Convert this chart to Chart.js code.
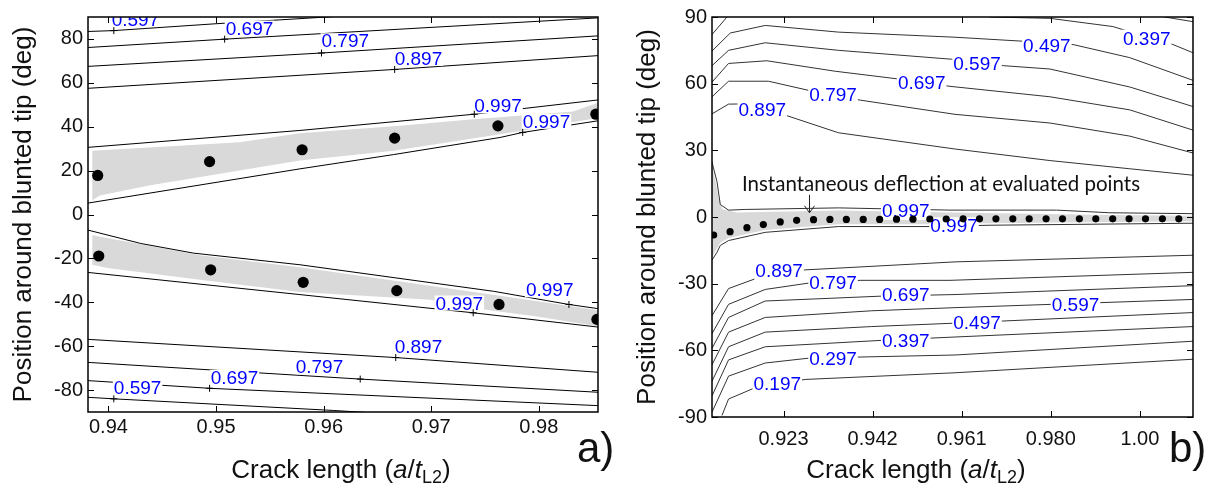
<!DOCTYPE html>
<html><head><meta charset="utf-8">
<script src="https://cdn.jsdelivr.net/npm/chart.js@4.4.1/dist/chart.umd.min.js"></script>
<style>
html,body{margin:0;padding:0;background:#fff;width:1217px;height:492px;overflow:hidden;position:relative;}
#wa{position:absolute;left:0;top:0;width:610px;height:492px;}
#wb{position:absolute;left:610px;top:0;width:607px;height:492px;}
.xt{position:absolute;font-family:"Liberation Sans",Arial,sans-serif;font-size:26px;line-height:30px;color:#111;white-space:nowrap;transform:translateX(-50%);}
.xt sub{font-size:18px;line-height:0;vertical-align:-5px;}
.pl{position:absolute;font-family:"Liberation Sans",Arial,sans-serif;font-size:42px;line-height:48px;color:#111;}
</style></head>
<body>
<div id="wa"><canvas id="ca"></canvas></div>
<div id="wb"><canvas id="cb"></canvas></div>
<div class="xt" style="left:341px;top:454px;">Crack length (<i>a</i>/<i>t</i><sub>L2</sub>)</div>
<div class="xt" style="left:916px;top:454px;">Crack length (<i>a</i>/<i>t</i><sub>L2</sub>)</div>
<div class="pl" style="left:577px;top:424px;">a)</div>
<div class="pl" style="left:1169px;top:424px;">b)</div>
<script>
// ---------------- Panel a data ----------------
const aXTicks=[0.94,0.95,0.96,0.97,0.98];
const aXTickLabels=['0.94','0.95','0.96','0.97','0.98'];
const aYTicks=[-80,-60,-40,-20,0,20,40,60,80];
const aDotsUpX=[0.9390,0.9494,0.9580,0.9666,0.9762,0.9853];
const aDotsUpY=[17.8,24.1,29.5,34.8,40.4,45.7];
const aDotsLoX=[0.9391,0.9495,0.9581,0.9668,0.9763,0.9854];
const aDotsLoY=[-18.9,-25.2,-30.9,-34.7,-41.0,-47.8];
const aC597top=[[0.9381,83.4],[0.9405,83.8],[0.9499,86.9],[0.9603,90.0],[0.9700,93.0]];
const aC697top=[[0.9381,76.1],[0.9508,79.9],[0.9855,89.6]];
const aC797top=[[0.9381,67.5],[0.9598,73.6],[0.9855,81.4]];
const aC897top=[[0.9381,57.5],[0.9666,66.1],[0.9855,72.4]];
const aC997a=[[0.9381,30.6],[0.9578,38.3],[0.9740,45.7],[0.9855,52.2]];
const aC997b=[[0.9381,5.2],[0.9578,20.8],[0.9665,27.3],[0.9764,35.1],[0.9785,37.4],[0.9855,42.7]];
const aC997c=[[0.9381,-7.1],[0.9430,-13.2],[0.9479,-17.6],[0.9578,-22.9],[0.9758,-35.0],[0.9828,-41.0],[0.9855,-42.9]];
const aC997d=[[0.9381,-26.4],[0.9578,-36.5],[0.9739,-44.8],[0.9855,-51.3]];
const aC897bot=[[0.9381,-56.9],[0.9667,-65.2],[0.9855,-71.9]];
const aC797bot=[[0.9381,-67.4],[0.9634,-75.0],[0.9855,-81.0]];
const aC697bot=[[0.9381,-75.7],[0.9494,-79.2],[0.9855,-87.1]];
const aC597bot=[[0.9381,-83.3],[0.9405,-84.0],[0.9609,-89.3],[0.9700,-92.0]];
const aBandUpTop=[[0.9385,29.1],[0.9522,32.9],[0.9578,37.0],[0.9671,40.4],[0.9739,43.4],[0.9832,46.9],[0.9855,50.9]];
const aBandUpBot=[[0.9385,6.5],[0.9392,8.7],[0.9439,13.3],[0.9578,24.6],[0.9665,29.0],[0.9761,36.3],[0.9783,38.0],[0.9832,42.2],[0.9855,44.0]];
const aBandLoTop=[[0.9385,-9.4],[0.9485,-18.6],[0.9578,-24.0],[0.9699,-32.5],[0.9783,-38.4],[0.9855,-43.6]];
const aBandLoBot=[[0.9385,-22.9],[0.9399,-24.4],[0.9485,-29.7],[0.9578,-35.3],[0.9699,-38.8],[0.9749,-43.3],[0.9795,-46.3],[0.9855,-50.9]];
const aLabelText=['0.597','0.697','0.797','0.897','0.997','0.997','0.997','0.997','0.897','0.797','0.697','0.597'];
const aLabelX=[0.9403,0.9509,0.9598,0.9666,0.9740,0.9785,0.9704,0.9788,0.9666,0.9574,0.9495,0.9405];
const aLabelY=[86.1,82.0,76.2,68.2,46.5,39.5,-43.3,-37.3,-63.2,-72.3,-77.2,-81.8];
const aMarkX=[0.9405,0.9508,0.9598,0.9666,0.9740,0.9785,0.9739,0.9828,0.9667,0.9634,0.9494,0.9405];
const aMarkY=[83.8,79.9,73.6,66.1,45.7,37.4,-44.8,-41.0,-65.2,-75.0,-79.2,-84.0];

// ---------------- Panel b data ----------------
const bXTicks=[0.923,0.942,0.961,0.980,0.999];
const bXTickLabels=['0.923','0.942','0.961','0.980','1.00'];
const bYTicks=[-90,-60,-30,0,30,60,90];
const bDotsX=[0.9081,0.9116,0.9152,0.9187,0.9223,0.9258,0.9294,0.9329,0.9364,0.9400,0.9435,0.9471,0.9506,0.9542,0.9577,0.9613,0.9648,0.9683,0.9719,0.9754,0.9790,0.9825,0.9861,0.9896,0.9932,0.9967,1.0002,1.0038,1.0073];
const bDotsY=[-8.1,-6.6,-4.8,-3.4,-2.2,-1.5,-1.2,-1.1,-1.1,-1.1,-1.1,-1.0,-1.0,-0.9,-0.9,-0.8,-0.8,-0.8,-0.8,-0.8,-0.8,-0.8,-0.8,-0.8,-0.8,-0.8,-0.8,-0.8,-0.8];
const bC897u=[[0.90775,46.4],[0.91128,50.8],[0.91946,51.0],[0.92372,45.6],[0.93472,37.9],[0.95957,30.6],[0.97981,25.4],[0.99685,21.7],[1.01033,18.8]];
const bC797u=[[0.90775,54.1],[0.91128,61.1],[0.91980,61.1],[0.92833,57.0],[0.93934,52.6],[0.95957,46.2],[0.97981,42.3],[0.99685,36.4],[1.01033,28.8]];
const bC697u=[[0.90775,60.7],[0.91128,69.1],[0.91946,70.3],[0.93401,65.6],[0.94715,62.2],[0.95851,58.8],[0.97981,54.1],[0.99685,48.2],[1.01033,39.1]];
const bC597u=[[0.90775,68.1],[0.91128,75.0],[0.91910,78.4],[0.93472,75.0],[0.95887,71.0],[0.96986,68.1],[0.97981,66.6],[0.99685,58.5],[1.01033,49.7]];
const bC497u=[[0.90775,74.7],[0.91165,82.8],[0.91910,86.2],[0.93472,83.2],[0.95957,80.9],[0.97412,79.1],[0.98477,77.6],[0.99685,71.7],[1.01033,61.5]];
const bC397uA=[[0.90775,82.1],[0.91094,90.0]];
const bC397uB=[[0.96703,90.0],[0.97981,89.4],[0.99323,85.7],[1.00607,77.6],[1.01033,73.9]];
const bC297u=[[1.00430,90.0],[1.01033,87.9]];
const bC997u=[[0.90775,24.7],[0.90881,15.9],[0.90952,5.6],[0.91128,3.1],[0.91484,3.4],[0.93472,4.1],[0.95851,3.1],[0.98123,3.1],[0.99259,1.9],[1.01033,1.5]];
const bC997l=[[0.90775,-19.4],[0.90881,-15.9],[0.90952,-12.8],[0.91128,-10.6],[0.91910,-6.9],[0.93472,-4.3],[0.95461,-4.3],[0.96703,-3.7],[1.01033,-2.8]];
const bC897l=[[0.90775,-44.4],[0.91128,-32.2],[0.91697,-27.8],[0.92762,-23.8],[0.95957,-20.2],[1.01033,-17.2]];
const bC797l=[[0.90775,-52.5],[0.91128,-39.3],[0.91910,-32.6],[0.92847,-29.7],[0.93934,-28.5],[0.95851,-28.5],[1.01033,-24.9]];
const bC697l=[[0.90775,-59.1],[0.91128,-45.2],[0.91910,-37.8],[0.94396,-35.6],[0.95957,-34.9],[1.01033,-30.9]];
const bC597l=[[0.90775,-66.5],[0.91128,-51.8],[0.91910,-45.2],[0.94183,-42.2],[0.95957,-40.8],[0.98017,-39.3],[1.01033,-37.1]];
const bC497l=[[0.90775,-73.9],[0.91128,-58.4],[0.91910,-51.8],[0.94183,-49.3],[0.95921,-47.8],[1.01033,-43.0]];
const bC397l=[[0.90775,-80.5],[0.91128,-64.3],[0.91910,-58.4],[0.94396,-55.5],[0.95957,-54.0],[1.01033,-49.3]];
const bC297l=[[0.90775,-87.8],[0.91128,-71.6],[0.91910,-65.7],[0.92847,-63.5],[0.95957,-62.1],[1.01033,-55.9]];
const bC197l=[[0.90988,-89.3],[0.91128,-81.9],[0.91697,-76.8],[0.92762,-73.1],[0.95957,-70.1],[1.01033,-64.0]];
const bBandTop=[[0.90775,23.0],[0.90850,16.0],[0.90920,8.0],[0.91000,3.5],[0.91300,2.0],[0.93472,2.9],[0.95851,2.0],[0.99259,0.9],[1.01033,0.6]];
const bBandBot=[[0.90775,-18.0],[0.90952,-11.6],[0.91128,-9.4],[0.91910,-5.8],[0.93472,-3.3],[0.95461,-3.3],[0.96703,-2.8],[1.01033,-1.9]];
const bLabelText=['0.897','0.797','0.697','0.597','0.497','0.397','0.997','0.997','0.897','0.797','0.697','0.597','0.497','0.397','0.297','0.197'];
const bLabelX=[0.9134,0.9285,0.9474,0.9592,0.9741,0.9954,0.9440,0.9543,0.9170,0.9285,0.9440,0.9802,0.9592,0.9440,0.9285,0.9166];
const bLabelY=[45.6,52.3,57.8,66.2,74.2,77.6,0.0,-6.9,-27.2,-32.2,-37.8,-42.2,-50.3,-58.4,-66.5,-77.8];
const bNoteText='Instantaneous deflection at evaluated points';
const bNoteX=0.91414, bNoteY=11.7;
const bArrowX=0.92833, bArrowY=[10.0,1.9];

// ---------------- helpers ----------------
const FONT='"Liberation Sans", Arial, sans-serif';
Chart.defaults.font.family=FONT;
Chart.defaults.color='#111';
function pts(arr){return arr.map(p=>({x:p[0],y:p[1]}));}
function zip(xs,ys){return xs.map((x,i)=>({x:x,y:ys[i]}));}
function lineDs(arr,color){return {data:pts(arr),showLine:true,borderColor:color,borderWidth:1,pointRadius:0,pointHoverRadius:0,fill:false,tension:0};}
function bandDs(top,bot){const poly=top.concat(bot.slice().reverse());poly.push(top[0]);
  return {data:pts(poly),showLine:true,borderColor:'rgba(0,0,0,0)',borderWidth:0,backgroundColor:'#d9d9d9',pointRadius:0,fill:'shape',tension:0};}
function dotDs(xs,ys,r){return {data:zip(xs,ys),showLine:false,pointRadius:r,pointHoverRadius:r,backgroundColor:'#000',borderColor:'#000',borderWidth:0};}

function drawLabels(chart,o){
  const {ctx,chartArea:a,scales:{x,y}}=chart;
  ctx.save();
  ctx.beginPath();ctx.rect(a.left,a.top,a.right-a.left,a.bottom-a.top);ctx.clip();
  ctx.font='19px '+FONT;ctx.textAlign='left';ctx.textBaseline='alphabetic';
  o.text.forEach((t,i)=>{
    const px=x.getPixelForValue(o.x[i]),py=y.getPixelForValue(o.y[i]);
    const w=ctx.measureText(t).width;
    ctx.fillStyle='#fff';ctx.fillRect(px-1,py-o.up,w+2,o.up+o.down);
    ctx.fillStyle='#0000ff';ctx.fillText(t,px,py);
  });
  ctx.restore();
}
function decor(o){
  return {id:'decor',
    beforeDatasetDraw(chart,args){ if(args.index===o.labelIndex) drawLabels(chart,o.labels); },
    afterDatasetsDraw(chart){
      const {ctx,chartArea:a,scales:{x,y}}=chart;
      ctx.save();
      if(o.extra) o.extra(chart);
      ctx.strokeStyle='#000';ctx.lineWidth=1;
      ctx.beginPath();
      o.xTicks.forEach(v=>{const p=Math.round(x.getPixelForValue(v))+0.5;
        ctx.moveTo(p,a.bottom);ctx.lineTo(p,a.bottom-o.tick);ctx.moveTo(p,a.top);ctx.lineTo(p,a.top+o.tick);});
      o.yTicks.forEach(v=>{const p=Math.round(y.getPixelForValue(v))+0.5;
        ctx.moveTo(a.left,p);ctx.lineTo(a.left+o.tick,p);ctx.moveTo(a.right,p);ctx.lineTo(a.right-o.tick,p);});
      ctx.stroke();
      ctx.lineWidth=1.5;ctx.strokeRect(a.left,a.top,a.right-a.left,a.bottom-a.top);
      ctx.restore();
    }};
}
function scales(xr,yr,xt,xl,yt,yw,xh,xpad,ytitlePad){
  return {
    x:{type:'linear',min:xr[0],max:xr[1],
      afterBuildTicks:s=>{s.ticks=xt.map(v=>({value:v}));},
      afterFit:s=>{s.height=xh;},
      ticks:{callback:(v,i)=>xl[i],font:{size:20},color:'#111',padding:xpad,maxRotation:0,autoSkip:false},
      grid:{display:false,drawTicks:false},border:{display:false}},
    y:{type:'linear',min:yr[0],max:yr[1],
      afterBuildTicks:s=>{s.ticks=yt.map(v=>({value:v}));},
      afterFit:s=>{s.width=yw;},
      ticks:{callback:v=>String(v),font:{size:20},color:'#111',padding:5,autoSkip:false},
      grid:{display:false,drawTicks:false},border:{display:false},
      title:{display:true,text:'Position around blunted tip (deg)',font:{size:26},color:'#111',padding:{top:ytitlePad,bottom:0}}}
  };
}
const common={responsive:true,maintainAspectRatio:false,animation:false,events:[],
  plugins:{legend:{display:false},tooltip:{enabled:false}}};

// ---------------- Chart a ----------------
const aDatasets=[
  dotDs(aDotsUpX,aDotsUpY,5.6),
  dotDs(aDotsLoX,aDotsLoY,5.6),
  {data:zip(aMarkX,aMarkY),showLine:false,pointStyle:'cross',pointRadius:3.5,borderColor:'#000',borderWidth:1},
  lineDs(aC597top,'#000'),lineDs(aC697top,'#000'),lineDs(aC797top,'#000'),lineDs(aC897top,'#000'),
  lineDs(aC997a,'#000'),lineDs(aC997b,'#000'),lineDs(aC997c,'#000'),lineDs(aC997d,'#000'),
  lineDs(aC897bot,'#000'),lineDs(aC797bot,'#000'),lineDs(aC697bot,'#000'),lineDs(aC597bot,'#000'),
  bandDs(aBandUpTop,aBandUpBot),bandDs(aBandLoTop,aBandLoBot)
];
new Chart(document.getElementById('ca'),{type:'scatter',data:{datasets:aDatasets},
  options:Object.assign({},common,{layout:{padding:{left:0,right:12,top:16,bottom:0}},
    scales:scales([0.9381,0.9855],[-90,90],aXTicks,aXTickLabels,aYTicks,88,80,3,8)}),
  plugins:[decor({xTicks:aXTicks,yTicks:aYTicks,tick:6,labelIndex:2,
    labels:{text:aLabelText,x:aLabelX,y:aLabelY,up:14,down:1}})]});

// ---------------- Chart b ----------------
const LC='#333';
const bDatasets=[
  dotDs(bDotsX,bDotsY,3.6),
  lineDs(bC897u,LC),lineDs(bC797u,LC),lineDs(bC697u,LC),lineDs(bC597u,LC),lineDs(bC497u,LC),
  lineDs(bC397uA,LC),lineDs(bC397uB,LC),lineDs(bC297u,LC),
  lineDs(bC997u,LC),lineDs(bC997l,LC),
  lineDs(bC897l,LC),lineDs(bC797l,LC),lineDs(bC697l,LC),lineDs(bC597l,LC),lineDs(bC497l,LC),
  lineDs(bC397l,LC),lineDs(bC297l,LC),lineDs(bC197l,LC),
  bandDs(bBandTop,bBandBot)
];
new Chart(document.getElementById('cb'),{type:'scatter',data:{datasets:bDatasets},
  options:Object.assign({},common,{layout:{padding:{left:0,right:24,top:10,bottom:0}},
    scales:scales([0.90775,1.01033],[-90,90],bXTicks,bXTickLabels,bYTicks,102,75,10,22)}),
  plugins:[decor({xTicks:bXTicks,yTicks:bYTicks,tick:6,labelIndex:0,
    labels:{text:bLabelText,x:bLabelX,y:bLabelY,up:15,down:3},
    extra:(chart)=>{
      const {ctx,scales:{x,y}}=chart;
      ctx.font='20.5px Lato';ctx.fillStyle='#111';ctx.textAlign='left';ctx.textBaseline='alphabetic';
      ctx.fillText(bNoteText,x.getPixelForValue(bNoteX),y.getPixelForValue(bNoteY));
      const ax=Math.round(x.getPixelForValue(bArrowX))+0.5,y1=y.getPixelForValue(bArrowY[0]),y2=y.getPixelForValue(bArrowY[1]);
      ctx.strokeStyle='#222';ctx.lineWidth=1;ctx.beginPath();
      ctx.moveTo(ax,y1);ctx.lineTo(ax,y2);ctx.moveTo(ax-5,y2-7);ctx.lineTo(ax,y2);ctx.lineTo(ax+5,y2-7);ctx.stroke();
    }})]});
</script>
</body></html>
